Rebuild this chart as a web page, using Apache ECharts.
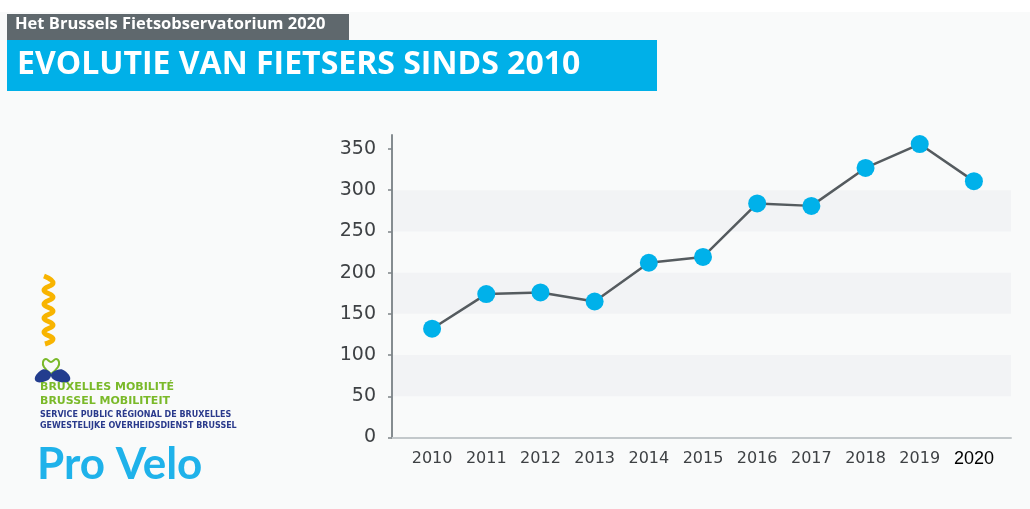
<!DOCTYPE html>
<html>
<head>
<meta charset="utf-8">
<script src="https://cdn.jsdelivr.net/npm/echarts@6/dist/echarts.min.js"></script>
<style>
html,body{margin:0;padding:0;background:#ffffff;}
#chart{width:1030px;height:509px;}
</style>
</head>
<body>
<div id="chart"></div>
<script>
// jaren en aantal fietsers (per telpunt, gemiddeld)
var years = ['2010','2011','2012','2013','2014','2015','2016','2017','2018','2019','2020'];
var cyclists = [132, 174, 176, 165, 212, 219, 284, 281, 327, 356, 311];
var yTicks = [0, 50, 100, 150, 200, 250, 300, 350];

var blue = '#00b1ea';
var grey = '#555b5f';

var mychart = echarts.init(document.getElementById('chart'));

var option = {
	backgroundColor: '#f9fafa',
	animation: false,
	grid: [
		// grid 0: de lijn zelf
		{left: 405, right: 29, top: 149, bottom: 71.5},
		// grid 1: alleen de grijze banden + assen
		{left: 392, right: 19, top: 135, bottom: 71.5}
	],
	xAxis: [
		{
			type: 'category', gridIndex: 0, data: years, boundaryGap: true,
			axisLine: {show: false}, axisTick: {show: false},
			axisLabel: {
				interval: 0, margin: 13,
				color: '#3e4144', fontSize: 16, fontFamily: 'DejaVu Sans',
				formatter: function (v) { return v === '2020' ? '{k|' + v + '}' : v; },
				rich: {k: {color: '#000', fontSize: 18, fontFamily: 'Liberation Sans'}}
			}
		},
		{
			type: 'value', gridIndex: 1, min: 0, max: 1,
			axisLine: {show: true, lineStyle: {color: '#c3c8cb', width: 2}},
			axisTick: {show: false}, axisLabel: {show: false}, splitLine: {show: false}
		}
	],
	yAxis: [
		{
			type: 'value', gridIndex: 0, min: yTicks[0], max: yTicks[yTicks.length - 1], interval: 50,
			offset: 13,
			axisLine: {show: false},
			axisTick: {show: true, length: 4, lineStyle: {color: '#7d8488', width: 1.5}},
			axisLabel: {margin: 16, color: '#3e4144', fontSize: 19, fontFamily: 'DejaVu Sans'},
			splitLine: {show: false}
		},
		{
			type: 'value', gridIndex: 1, min: 0, max: 367, interval: 50,
			axisLine: {show: true, lineStyle: {color: '#858c90', width: 2}},
			axisTick: {show: false}, axisLabel: {show: false}, splitLine: {show: false},
			splitArea: {
				show: true,
				areaStyle: {color: ['rgba(0,0,0,0)', '#f2f3f5', 'rgba(0,0,0,0)', '#f2f3f5',
					'rgba(0,0,0,0)', '#f2f3f5', 'rgba(0,0,0,0)', 'rgba(0,0,0,0)']}
			}
		}
	],
	series: [
		{
			name: 'fietsers',
			type: 'line',
			xAxisIndex: 0, yAxisIndex: 0,
			data: cyclists,
			clip: false,
			symbol: 'circle',
			symbolSize: 18,
			itemStyle: {color: blue},
			lineStyle: {color: grey, width: 2.5},
			z: 5
		}
	],
	graphic: [
		// witte rand boven
		{type: 'rect', x: 0, y: 0, shape: {x: 0, y: 0, width: 1030, height: 12}, style: {fill: '#fff'}},
		// kop
		{type: 'rect', x: 0, y: 0, shape: {x: 7, y: 14, width: 342, height: 27}, style: {fill: '#5f686d'}},
		{type: 'text', x: 15, y: 16, style: {text: 'Het Brussels Fietsobservatorium 2020', fill: '#fff',
			font: 'bold 16.5px "Open Sans"'}},
		{type: 'rect', x: 0, y: 0, shape: {x: 7, y: 40, width: 650, height: 51}, style: {fill: '#00b0e8'}},
		{type: 'text', x: 17, y: 49, style: {text: 'EVOLUTIE VAN FIETSERS SINDS 2010', fill: '#fff',
			font: 'bold 32px "Open Sans"'}},
		// gele golf
		{type: 'polyline', shape: {smooth: 0.5, points: [[44,276],[53,283],[44,290],[53,297],[44,304],[53,311],[44,318],[53,325],[44,332],[53,339],[45,344]]},
			style: {stroke: '#f8b400', lineWidth: 5, fill: null}},
		// bruxelles mobilite logo
		{type: 'polyline', shape: {smooth: 0.4, points: [[51,374],[44,367],[43,362],[46,359],[51,362],[56,359],[59,362],[58,367],[51,374]]},
			style: {stroke: '#7ab929', lineWidth: 2, fill: null}},
		{type: 'polygon', shape: {smooth: 0.5, points: [[35,380],[40,371],[47,370],[51,376],[43,382]]},
			style: {fill: '#233d8e'}},
		{type: 'polygon', shape: {smooth: 0.5, points: [[70,380],[65,371],[57,370],[51,376],[60,382]]},
			style: {fill: '#233d8e'}},
		{type: 'text', x: 40, y: 382, style: {text: 'BRUXELLES MOBILITÉ', fill: '#7ab929', font: 'bold 11px "DejaVu Sans"'}},
		{type: 'text', x: 40, y: 396, style: {text: 'BRUSSEL MOBILITEIT', fill: '#7ab929', font: 'bold 11px "DejaVu Sans"'}},
		{type: 'text', x: 40, y: 411, style: {text: 'SERVICE PUBLIC RÉGIONAL DE BRUXELLES', fill: '#2a3a8c', font: 'bold 8px "DejaVu Sans"'}},
		{type: 'text', x: 40, y: 422, style: {text: 'GEWESTELIJKE OVERHEIDSDIENST BRUSSEL', fill: '#2a3a8c', font: 'bold 8px "DejaVu Sans"'}},
		// pro velo
		{type: 'text', x: 37, y: 443, style: {text: 'Pro Velo', fill: '#1fb2ea', font: 'bold 44px "Lato"'}}
	]
};
mychart.setOption(option);
</script>
</body>
</html>
